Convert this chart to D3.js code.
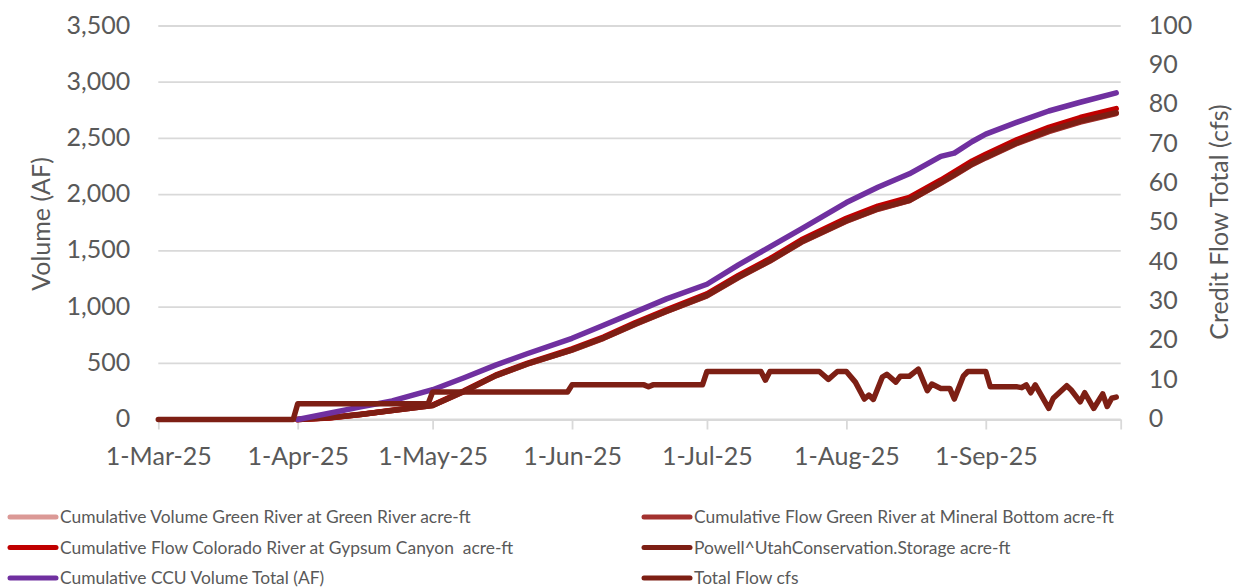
<!DOCTYPE html>
<html>
<head>
<meta charset="utf-8">
<script src="https://cdn.jsdelivr.net/npm/d3@7"></script>
<style>
  html, body { margin: 0; padding: 0; background: #ffffff; }
  svg { display: block; }
  text { font-family: Lato, "Open Sans", sans-serif; fill: #595959; }
  .legend text { white-space: pre; }
</style>
</head>
<body>
<svg id="chart" width="1243" height="588"></svg>
<script>
// ---- Data ---------------------------------------------------------------
// Dates at which the cumulative volumes (acre-ft) were sampled
const cumDates = ["2025-04-01","2025-04-08","2025-04-15","2025-04-22","2025-05-01","2025-05-08",
  "2025-05-15","2025-05-22","2025-06-01","2025-06-08","2025-06-15","2025-06-22","2025-07-01",
  "2025-07-08","2025-07-15","2025-07-22","2025-08-01","2025-08-08","2025-08-15","2025-08-22",
  "2025-08-25","2025-08-29","2025-09-01","2025-09-08","2025-09-15","2025-09-22","2025-09-30"];

const greenRiverVolume = [0,15,45,80,125,250,389,493,619,724,848,962,1102,1264,1411,1578,
  1765,1872,1948,2105,2175,2271,2330,2460,2565,2650,2725];
const mineralBottomFlow = [0,16,46,79,124,249,388,492,617,722,846,960,1100,1262,1409,1576,
  1763,1870,1946,2102,2172,2268,2327,2456,2561,2646,2722];
const gypsumCanyonFlow = [0,14,44,82,128,255,395,500,628,733,860,975,1118,1282,1430,1598,
  1790,1898,1975,2130,2203,2300,2360,2490,2598,2686,2765];
const powellStorage = [0,15,45,80,125,251,390,494,620,725,850,963,1104,1266,1413,1580,
  1768,1875,1950,2107,2178,2274,2333,2463,2569,2654,2728];
const ccuVolumeTotal = [0,55,112,165,265,371,484,585,722,838,955,1073,1203,1375,1536,1695,
  1930,2066,2185,2340,2369,2473,2538,2645,2744,2822,2905];

// Daily credit flow (cfs), listed where the value changes
const flowDates = ["2025-03-01","2025-03-31","2025-04-01","2025-04-30","2025-05-01","2025-05-31",
  "2025-06-01","2025-06-17","2025-06-18","2025-06-19","2025-06-30","2025-07-01","2025-07-13",
  "2025-07-14","2025-07-15","2025-07-26","2025-07-28","2025-07-30","2025-08-01","2025-08-03",
  "2025-08-05","2025-08-06","2025-08-07","2025-08-09","2025-08-10","2025-08-12","2025-08-13",
  "2025-08-15","2025-08-17","2025-08-19","2025-08-20","2025-08-22","2025-08-24","2025-08-25",
  "2025-08-27","2025-08-28","2025-09-01","2025-09-02","2025-09-08","2025-09-09","2025-09-10",
  "2025-09-11","2025-09-12","2025-09-15","2025-09-16","2025-09-19","2025-09-20","2025-09-22",
  "2025-09-23","2025-09-25","2025-09-27","2025-09-28","2025-09-29","2025-09-30"];
const totalFlowCfs = [0,0,4,4,7,7,8.8,8.8,8.3,8.8,8.8,12.2,12.2,10,12.2,12.2,10.2,12.2,12.2,9.5,
  5.2,6.2,5.1,10.8,11.5,9.5,11,11,12.8,7.3,9,7.9,7.9,5.2,11,12.2,12.2,8.3,8.3,8.1,8.8,6.8,8.8,
  2.8,5.4,8.6,7.5,4.5,6.8,2.8,6.5,3.3,5.4,5.7];

// Axis ticks and labels
const monthTicks = ["2025-03-01","2025-04-01","2025-05-01","2025-06-01","2025-07-01",
  "2025-08-01","2025-09-01","2025-10-01"];
const monthLabels = ["1-Mar-25","1-Apr-25","1-May-25","1-Jun-25","1-Jul-25","1-Aug-25","1-Sep-25",""];
const volumeTicks = [0,500,1000,1500,2000,2500,3000,3500];
const flowTicks = [0,10,20,30,40,50,60,70,80,90,100];

// Series names and colours (legend order)
const seriesNames = ["Cumulative Volume Green River at Green River acre-ft",
  "Cumulative Flow Green River at Mineral Bottom acre-ft",
  "Cumulative Flow Colorado River at Gypsum Canyon  acre-ft",
  "Powell^UtahConservation.Storage acre-ft",
  "Cumulative CCU Volume Total (AF)",
  "Total Flow cfs"];
const seriesColors = ["#DB9996", "#A3322F", "#C00000", "#7D1F14", "#7030A0", "#7D1F14"];

// ---- Scales & layout ----------------------------------------------------
const parse = d3.utcParse("%Y-%m-%d");
const svg = d3.select("#chart");
const plot = { left: 158.3, right: 1120.7, top: 26, bottom: 419.5 };

const x = d3.scaleUtc()
  .domain([parse("2025-03-01"), parse("2025-10-01")])
  .range([plot.left, plot.right]);
const yVol = d3.scaleLinear().domain([0, 3500]).range([plot.bottom, plot.top]);
const yFlow = d3.scaleLinear().domain([0, 100]).range([plot.bottom, plot.top]);

// Horizontal gridlines
svg.append("g").selectAll("line").data(volumeTicks).join("line")
  .attr("x1", plot.left).attr("x2", plot.right)
  .attr("y1", d => yVol(d)).attr("y2", d => yVol(d))
  .attr("stroke", "#D9D9D9").attr("stroke-width", 1.8);

// Bottom date axis
const xAxis = svg.append("g")
  .attr("transform", `translate(0,${plot.bottom})`)
  .call(d3.axisBottom(x)
    .tickValues(monthTicks.map(parse))
    .tickFormat((d, i) => monthLabels[i])
    .tickSize(10).tickSizeOuter(0).tickPadding(18));
xAxis.select(".domain").attr("stroke", "#D9D9D9").attr("stroke-width", 1.8);
xAxis.selectAll(".tick line").attr("stroke", "#D9D9D9").attr("stroke-width", 1.8);
xAxis.selectAll(".tick text").attr("font-size", 25).attr("fill", "#595959")
  .attr("dy", "0.71em");

// Left volume axis
const yAxisL = svg.append("g")
  .attr("transform", `translate(${plot.left},0)`)
  .call(d3.axisLeft(yVol).tickValues(volumeTicks).tickFormat(d3.format(","))
    .tickSize(0).tickPadding(28));
yAxisL.select(".domain").remove();
yAxisL.selectAll(".tick text").attr("font-size", 25).attr("fill", "#595959").attr("dy", "0.28em");

// Right flow axis
const yAxisR = svg.append("g")
  .attr("transform", `translate(${plot.right},0)`)
  .call(d3.axisRight(yFlow).tickValues(flowTicks).tickSize(0).tickPadding(28));
yAxisR.select(".domain").remove();
yAxisR.selectAll(".tick text").attr("font-size", 25).attr("fill", "#595959").attr("dy", "0.28em");

// Axis titles
svg.append("text")
  .attr("transform", "translate(50,224) rotate(-90)")
  .attr("text-anchor", "middle").attr("font-size", 25)
  .text("Volume (AF)");
svg.append("text")
  .attr("transform", "translate(1228,222) rotate(-90)")
  .attr("text-anchor", "middle").attr("font-size", 25)
  .text("Credit Flow Total (cfs)");

// ---- Lines --------------------------------------------------------------
const cumSeries = [greenRiverVolume, mineralBottomFlow, gypsumCanyonFlow, powellStorage, ccuVolumeTotal];
const volLine = d3.line().x(d => x(d.date)).y(d => yVol(d.value));
const flowLine = d3.line().x(d => x(d.date)).y(d => yFlow(d.value));

const linesG = svg.append("g")
  .attr("fill", "none").attr("stroke-width", 5.5)
  .attr("stroke-linejoin", "round").attr("stroke-linecap", "round");

cumSeries.forEach((vals, i) => {
  const pts = cumDates.map((d, j) => ({ date: parse(d), value: vals[j] }));
  linesG.append("path").datum(pts).attr("d", volLine).attr("stroke", seriesColors[i]);
});

const flowPts = flowDates.map((d, j) => ({ date: parse(d), value: totalFlowCfs[j] }));
linesG.append("path").datum(flowPts).attr("d", flowLine).attr("stroke", seriesColors[5]);

// ---- Legend (two columns, row-wise) --------------------------------------
const legend = svg.append("g").attr("class", "legend");
const colX = [8, 642];
const rowY = [517, 547.5, 578];
seriesNames.forEach((name, i) => {
  const cx = colX[i % 2], cy = rowY[Math.floor(i / 2)];
  const g = legend.append("g");
  g.append("line").attr("x1", cx + 2).attr("x2", cx + 48).attr("y1", cy).attr("y2", cy)
    .attr("stroke", seriesColors[i]).attr("stroke-width", 5).attr("stroke-linecap", "round");
  g.append("text").attr("x", cx + 52).attr("y", cy).attr("dy", "0.35em")
    .attr("font-size", 17.4).text(name);
});
</script>
</body>
</html>
